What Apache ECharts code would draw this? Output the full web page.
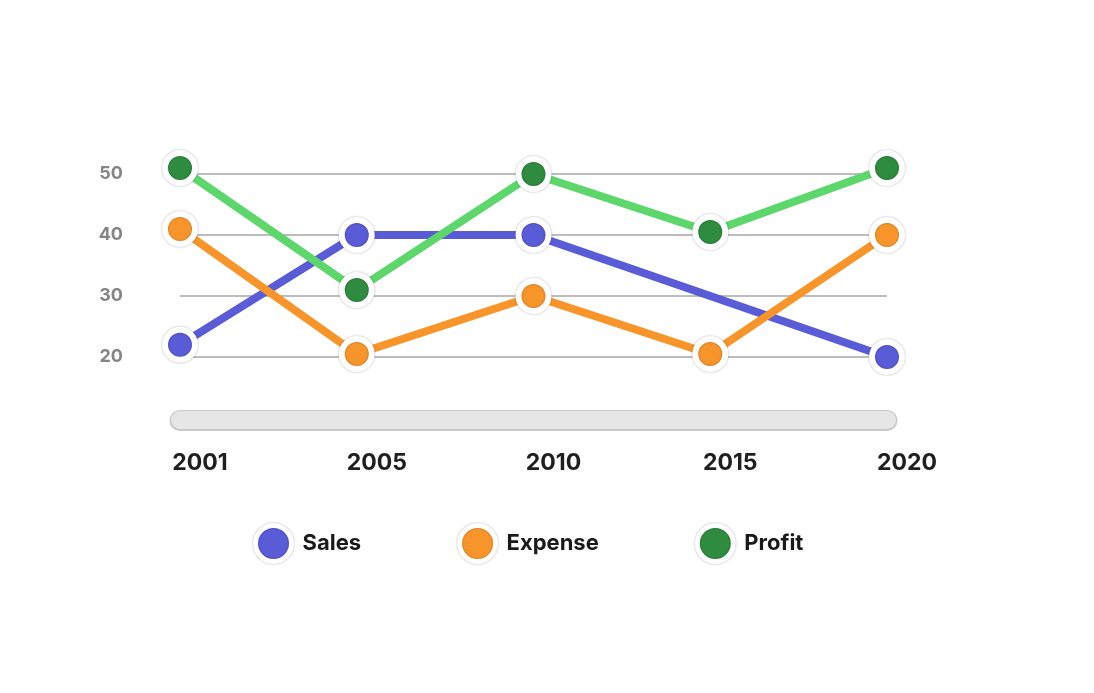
<!DOCTYPE html>
<html>
<head>
<meta charset="utf-8">
<script src="https://cdn.jsdelivr.net/npm/echarts@6/dist/echarts.min.js"></script>
<style>
	html, body { margin: 0; padding: 0; background: #fff; }
	#main { width: 1094px; height: 693px; }
</style>
</head>
<body>
<div id="main"></div>
<script>
//年份
var years = ['2001', '2005', '2010', '2015', '2020'];
//各系列数值（Sales 在 2015 没有点，直线连过去）
var sales = [22, 40, 40, null, 20];
var expense = [41, 20.5, 30, 20.5, 40];
var profit = [51, 31, 50, 40.5, 51];
//纵轴刻度
var yTicks = [20, 30, 40, 50];

var fontName = 'Inter, "Open Sans", sans-serif';

function makeSeries(name, data, dotColor, lineColor) {
	return {
		name: name,
		type: 'line',
		data: data,
		connectNulls: true,
		clip: false,
		symbol: 'circle',
		symbolSize: 30,
		lineStyle: { color: lineColor, width: 8 },
		itemStyle: {
			color: dotColor,
			borderColor: '#fff',
			borderWidth: 6,
			shadowColor: 'rgba(0,0,0,0.35)',
			shadowBlur: 2
		},
		emphasis: { disabled: true }
	};
}

var myChart = echarts.init(document.getElementById('main'));
var option = {
	animation: false,
	grid: { left: 180, right: 207, top: 174, bottom: 336 },
	legend: {
		left: 248,
		top: 518,
		icon: 'circle',
		itemWidth: 36,
		itemHeight: 36,
		itemGap: 96,
		itemStyle: {
			borderColor: '#fff',
			borderWidth: 5,
			shadowColor: 'rgba(0,0,0,0.35)',
			shadowBlur: 2
		},
		textStyle: {
			fontFamily: fontName,
			fontWeight: 'bold',
			fontSize: 22,
			color: '#1a1a1a',
			padding: [0, 0, 0, 6]
		},
		data: ['Sales', 'Expense', 'Profit']
	},
	xAxis: [{
		type: 'category',
		data: years,
		boundaryGap: false,
		offset: 63,
		axisLine: { lineStyle: { color: '#c9c9c9', width: 21, cap: 'round' } },
		axisTick: { show: false },
		axisLabel: {
			margin: 32,
			fontFamily: fontName,
			fontWeight: 'bold',
			fontSize: 23,
			color: '#1f1f1f',
			padding: [0, 0, 0, 40]
		}
	}, {
		type: 'category',
		data: years,
		boundaryGap: false,
		position: 'bottom',
		offset: 63,
		axisLine: { lineStyle: { color: '#e6e6e6', width: 18, cap: 'round' } },
		axisTick: { show: false },
		axisLabel: { show: false }
	}],
	yAxis: {
		type: 'value',
		min: yTicks[0],
		max: yTicks[yTicks.length - 1],
		interval: 10,
		axisLine: { show: false },
		axisTick: { show: false },
		axisLabel: {
			margin: 57,
			fontFamily: fontName,
			fontWeight: 'bold',
			fontSize: 18,
			color: '#858585'
		},
		splitLine: { lineStyle: { color: '#bdbdbd', width: 2 } }
	},
	series: [
		makeSeries('Sales', sales, '#5a5bd6', '#5a5bd6'),
		makeSeries('Expense', expense, '#f7952a', '#f7952a'),
		makeSeries('Profit', profit, '#2e8b3f', '#5dd66b')
	]
};
myChart.setOption(option);
</script>
</body>
</html>
